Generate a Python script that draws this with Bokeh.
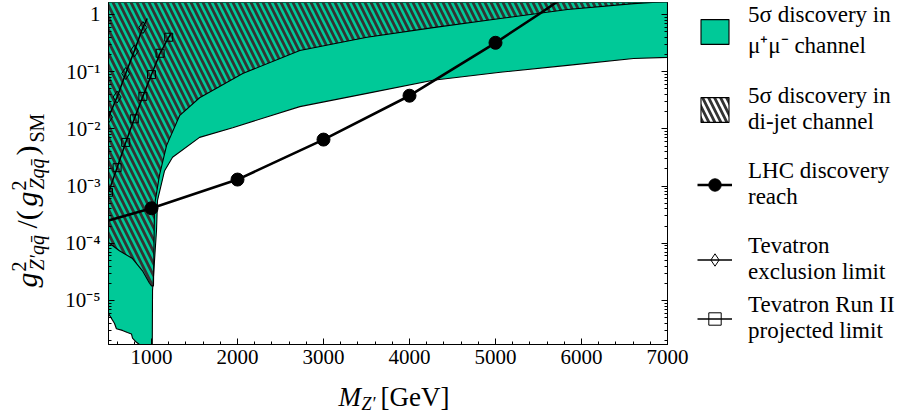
import math
from bokeh.plotting import figure
from bokeh.layouts import row, column
from bokeh.models import (Range1d, LogAxis, SingleIntervalTicker, LogTicker,
                          CustomJSTickFormatter, Legend, LegendItem)
from bokeh.core.properties import value
from bokeh.embed import file_html
from bokeh.resources import INLINE

# ---------------- data ----------------
x_min, x_max = 500, 7000
y_min, y_max = 1.7e-6, 1.62

# lower edge of the 5 sigma mu+mu- discovery region
mass_mumu = [500, 569, 592, 662, 720, 767, 779, 825, 860, 977, 1000, 1005, 1012, 1035,
             1058, 1070, 1152, 1245, 1559, 1944, 2725, 3506, 4275, 5056, 5837, 6606, 7000]
g_mumu = [5.9e-6, 4.0e-6, 3.2e-6, 3.0e-6, 2.75e-6, 2.6e-6, 2.2e-6, 1.86e-6, 1.7e-6, 1.6e-6,
          1e-7, 1e-7, 1.5e-5, 5e-5, 1.66e-4, 5.6e-4, 1.86e-3, 3.2e-3, 7.1e-3, 1.05e-2,
          0.0245, 0.0417, 0.0708, 0.0977, 0.129, 0.170, 0.178]

# lower edge of the 5 sigma di-jet discovery region
mass_dijet = [500, 627, 779, 895, 977, 1000, 1023, 1035, 1093, 1175, 1326, 1559, 2061,
              2725, 3506, 4275, 5056, 5837, 6606, 7000]
g_dijet = [1.03e-4, 7.4e-5, 5.4e-5, 3.3e-5, 2.0e-5, 1.8e-5, 1.8e-5, 4.6e-4, 1.55e-3,
           5.1e-3, 0.017, 0.035, 0.093, 0.234, 0.40, 0.59, 0.85, 1.22, 1.55, 1.69]

# LHC discovery reach
mass_lhc = [500, 1000, 2000, 3000, 4000, 5000, 5500, 5750]
g_lhc = [2.5e-4, 4.1e-4, 1.3e-3, 6.5e-3, 3.8e-2, 0.32, 1.0, 1.8]
mass_lhc_pts = [1000, 2000, 3000, 4000, 5000]
g_lhc_pts = [4.1e-4, 1.3e-3, 6.5e-3, 3.8e-2, 0.32]

# Tevatron exclusion limit
mass_tev = [500, 600, 700, 800, 900, 950]
g_tev = [0.016, 0.036, 0.093, 0.23, 0.59, 0.85]
mass_tev_pts = [500, 600, 700, 800, 900]
g_tev_pts = [0.016, 0.036, 0.093, 0.23, 0.59]

# Tevatron Run II projected limit
mass_run2 = [500, 600, 700, 800, 900, 1000, 1100, 1200, 1230]
g_run2 = [7.8e-4, 2.1e-3, 5.8e-3, 0.015, 0.037, 0.089, 0.21, 0.40, 0.47]
mass_run2_pts = [500, 600, 700, 800, 900, 1000, 1100, 1200]
g_run2_pts = [7.8e-4, 2.1e-3, 5.8e-3, 0.015, 0.037, 0.089, 0.21, 0.40]

legend_labels = ["5\u03c3 discovery in\n\u03bc\u207a\u03bc\u207b channel",
                 "5\u03c3 discovery in\ndi-jet channel",
                 "LHC discovery\nreach",
                 "Tevatron\nexclusion limit",
                 "Tevatron Run II\nprojected limit"]

GREEN = "#00c998"
HATCH = "#333333"
TOP = 100.0  # closing value above the visible range for the filled regions
FONT = "Liberation Serif"

# page geometry
H_TOP = 376     # height of the row holding the chart
H_BOT = 37      # strip below holding the x title
W_LEFT = 60     # strip left of the chart holding the y title
W_MAIN = 637
W_LEG = 202
B_TOP, B_BOT = 2, 32          # borders above / below the plotting frame
FRAME_H = H_TOP - B_TOP - B_BOT
MID = 0.34      # baseline offset of a "middle"-anchored text, in em

# style dictionaries shared by chart and legend renderers
mumu_style = dict(fill_color=GREEN, line_color="black", line_width=1.1)
dijet_style = dict(fill_alpha=0, hatch_pattern="\\", hatch_color=HATCH, hatch_scale=12,
                   hatch_weight=2.8, line_color="black", line_width=1.1)
lhc_line_style = dict(line_color="black", line_width=2.6)
lhc_pt_style = dict(marker="circle", size=13, line_color="black", fill_color="black")
tev_line_style = dict(line_color="black", line_width=1.5)
tev_pt_style = dict(marker="diamond", size=12, line_color="black", fill_alpha=0, line_width=1)
run2_pt_style = dict(marker="square", size=8, line_color="black", fill_alpha=0, line_width=1)

# ---------------- main chart ----------------
p = figure(width=W_MAIN, height=H_TOP,
           x_range=Range1d(x_min, x_max), y_range=Range1d(y_min, y_max),
           y_axis_type="log", output_backend="svg", toolbar_location=None,
           min_border_left=48, min_border_right=30, min_border_top=B_TOP,
           min_border_bottom=B_BOT, background_fill_color="white",
           border_fill_color="white")
p.xgrid.visible = False
p.ygrid.visible = False
p.outline_line_color = "black"
p.outline_line_width = 1

p.patch(x=mass_mumu + [x_max, x_min], y=g_mumu + [TOP, TOP], **mumu_style)
p.patch(x=mass_dijet + [x_max, x_min], y=g_dijet + [TOP, TOP], **dijet_style)
p.line(mass_tev, g_tev, **tev_line_style)
p.scatter(mass_tev_pts, g_tev_pts, **tev_pt_style)
p.line(mass_run2, g_run2, **tev_line_style)
p.scatter(mass_run2_pts, g_run2_pts, **run2_pt_style)
p.line(mass_lhc, g_lhc, **lhc_line_style)
p.scatter(mass_lhc_pts, g_lhc_pts, **lhc_pt_style)

p.xaxis.ticker = SingleIntervalTicker(interval=1000, num_minor_ticks=5)
p.yaxis.ticker = LogTicker(desired_num_ticks=7, num_minor_ticks=10)
p.yaxis.formatter = CustomJSTickFormatter(code="""
const e = Math.round(Math.log10(tick));
if (e === 0) { return "1"; }
const m = {"-": "\\u207b", "0": "\\u2070", "1": "\\u00b9", "2": "\\u00b2", "3": "\\u00b3",
           "4": "\\u2074", "5": "\\u2075", "6": "\\u2076", "7": "\\u2077", "8": "\\u2078", "9": "\\u2079"};
return "10" + String(e).split("").map(c => m[c]).join("");
""")
for ax in (p.xaxis[0], p.yaxis[0]):
    ax.major_tick_in = 6
    ax.major_tick_out = 0
    ax.minor_tick_in = 3
    ax.minor_tick_out = 0
    ax.axis_line_color = "black"
    ax.major_tick_line_color = "black"
    ax.minor_tick_line_color = "black"
    ax.major_label_text_font = FONT
    ax.major_label_text_font_size = "21px"
    ax.major_label_text_color = "black"
p.xaxis.major_label_standoff = 5
p.yaxis.major_label_standoff = 8

right_axis = LogAxis(ticker=LogTicker(desired_num_ticks=7, num_minor_ticks=10),
                     formatter=CustomJSTickFormatter(code="return '';"),
                     major_tick_in=6, major_tick_out=0, minor_tick_in=3, minor_tick_out=0,
                     major_label_standoff=0, major_label_text_font_size="1px",
                     axis_line_color="black")
p.add_layout(right_axis, "right")


def text_strip(width, height, b_top=0, b_bot=0, xr=None, yr=None):
    f = figure(width=width, height=height,
               x_range=xr if xr is not None else Range1d(0, width),
               y_range=yr if yr is not None else Range1d(0, height - b_top - b_bot),
               output_backend="svg", toolbar_location=None,
               x_axis_location=None, y_axis_location=None, min_border_left=0,
               min_border_right=0, min_border_top=b_top, min_border_bottom=b_bot,
               outline_line_color=None, background_fill_color="white",
               border_fill_color="white")
    f.xgrid.visible = False
    f.ygrid.visible = False
    return f


def piece(fig, text, x, y, size, italic=False, angle=0.0):
    fig.text(x=[x], y=[y], text=[text], angle=angle, text_font=value(FONT),
             text_font_size=value(f"{size}px"),
             text_font_style=value("italic" if italic else "normal"),
             text_color="black", text_align="left", text_baseline="middle")


# ---------------- y title strip: g^2_{Z'q qbar} / (g^2_{Z q qbar})_SM ----------------
# same frame as the chart, so page y = B_TOP + FRAME_H - data y
pl = text_strip(W_LEFT, H_TOP, B_TOP, B_BOT)
rot = math.pi / 2
MAIN, SCRIPT = 30, 20
BASE, SUP, SUB = 36, 25, 43   # page x of main / superscript / subscript baselines
for txt, start, base, size, it in [("g", 287, BASE, MAIN, True),
                                   ("2", 271, SUP, SCRIPT, False),
                                   ("Z\u2032qq\u0304", 270, SUB, SCRIPT, True),
                                   ("/(", 228, BASE, MAIN, False),
                                   ("g", 206, BASE, MAIN, True),
                                   ("2", 190, SUP, SCRIPT, False),
                                   ("Zqq\u0304", 189, SUB, SCRIPT, True),
                                   (")", 155, BASE, MAIN, False),
                                   ("SM", 142, SUB, SCRIPT, False)]:
    piece(pl, txt, base - MID * size, B_TOP + FRAME_H - start, size, it, rot)

# ---------------- legend strip (its renderers fall outside its ranges) ----------------
pleg = text_strip(W_LEG, H_TOP, B_TOP, B_BOT, Range1d(0, 1), Range1d(0, 1))
r_mumu = pleg.patch(x=mass_mumu, y=g_mumu, **mumu_style)
r_dijet = pleg.patch(x=mass_dijet, y=g_dijet, **dijet_style)
r_lhc_l = pleg.line(x=mass_lhc, y=g_lhc, **lhc_line_style)
r_lhc_p = pleg.scatter(x=mass_lhc_pts, y=g_lhc_pts, **lhc_pt_style)
r_tev_l = pleg.line(x=mass_tev, y=g_tev, **tev_line_style)
r_tev_p = pleg.scatter(x=mass_tev_pts, y=g_tev_pts, **tev_pt_style)
r_run2_l = pleg.line(x=mass_run2, y=g_run2, **tev_line_style)
r_run2_p = pleg.scatter(x=mass_run2_pts, y=g_run2_pts, **run2_pt_style)

legend_style = dict(margin=0, padding=0, glyph_width=35, glyph_height=31,
                    label_standoff=16, label_text_font=FONT, label_text_font_size="23px",
                    label_text_line_height=1.05, label_text_color="black",
                    border_line_alpha=0, background_fill_alpha=0)
legend_top = Legend(items=[LegendItem(label=legend_labels[0], renderers=[r_mumu]),
                           LegendItem(label=legend_labels[1], renderers=[r_dijet]),
                           LegendItem(label=legend_labels[2], renderers=[r_lhc_l, r_lhc_p]),
                           LegendItem(label=legend_labels[3], renderers=[r_tev_l, r_tev_p])],
                    location="top_left", spacing=23, label_height=52, **legend_style)
legend_bottom = Legend(items=[LegendItem(label=legend_labels[4],
                                         renderers=[r_run2_l, r_run2_p])],
                       location="bottom_left", label_height=52, **legend_style)
pleg.add_layout(legend_top)
pleg.add_layout(legend_bottom)

# ---------------- x title strip: M_{Z'} [GeV] ----------------
W_ALL = W_LEFT + W_MAIN + W_LEG
pb = text_strip(W_ALL, H_BOT)
PAGE_H = H_TOP + H_BOT
piece(pb, "M", 338, PAGE_H - (406 - MID * 27), 27, True)
piece(pb, "Z\u2032", 361, PAGE_H - (410 - MID * 18), 18, True)
piece(pb, "[GeV]", 380, PAGE_H - (406 - MID * 27), 27, False)

layout = column(row(pl, p, pleg), pb)
open("out.html", "w").write(file_html(layout, INLINE))
